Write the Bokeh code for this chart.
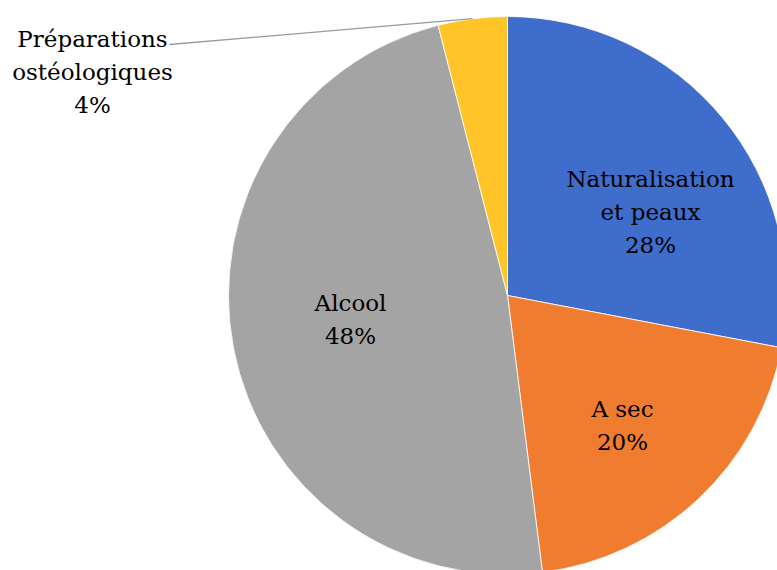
import math
from bokeh.plotting import figure
from bokeh.models import Range1d, ColumnDataSource
from bokeh.core.properties import value
from bokeh.embed import file_html
from bokeh.resources import INLINE

categories = ["Naturalisation et peaux", "A sec", "Alcool", "Préparations ostéologiques"]
values = [28, 20, 48, 4]
label_lines = [["Naturalisation", "et peaux", "28%"], ["A sec", "20%"], ["Alcool", "48%"],
               ["Préparations", "ostéologiques", "4%"]]
colors = ["#3E6DCC", "#F07C30", "#A4A4A4", "#FFC428"]

W, H = 777, 570
p = figure(width=W, height=H, output_backend="svg", toolbar_location=None,
           x_range=Range1d(0, W), y_range=Range1d(0, H), min_border=0)
p.axis.visible = False
p.grid.visible = False
p.outline_line_color = None

def to_data(x_img, y_img):
    return x_img, H - y_img

cx, cy = to_data(507, 295)
R = 279
total = sum(values)
starts, ends = [], []
a = math.pi / 2
for v in values:
    starts.append(a)
    a -= v / total * 2 * math.pi
    ends.append(a)

src = ColumnDataSource(dict(start=starts, end=ends, color=colors))
p.wedge(x=cx, y=cy, radius=R, start_angle="end", end_angle="start", fill_color="color",
        line_color="#FFFFFF", line_width=0.8, source=src)

# label centres (image coordinates) of first line, line step
label_pos = [(650, 178), (622, 408), (350, 302), (92, 38)]
step = 33
xs, ys, ts = [], [], []
for (lx, ly), lines in zip(label_pos, label_lines):
    for i, t in enumerate(lines):
        dx, dy = to_data(lx, ly + i * step)
        xs.append(dx); ys.append(dy); ts.append(t)
p.text(x=xs, y=ys, text=ts, text_align="center", text_baseline="middle",
       text_font=value("DejaVu Serif"), text_font_size="23px",
       text_color="#000000")

# leader line for the small slice
mid = (starts[3] + ends[3]) / 2
ex, ey = cx + R * math.cos(mid), cy + R * math.sin(mid)
sx, sy = to_data(169, 44)
p.line(x=[sx, ex], y=[sy, ey], line_color="#9A9A9A", line_width=1.3)

open("out.html", "w").write(file_html(p, INLINE))
